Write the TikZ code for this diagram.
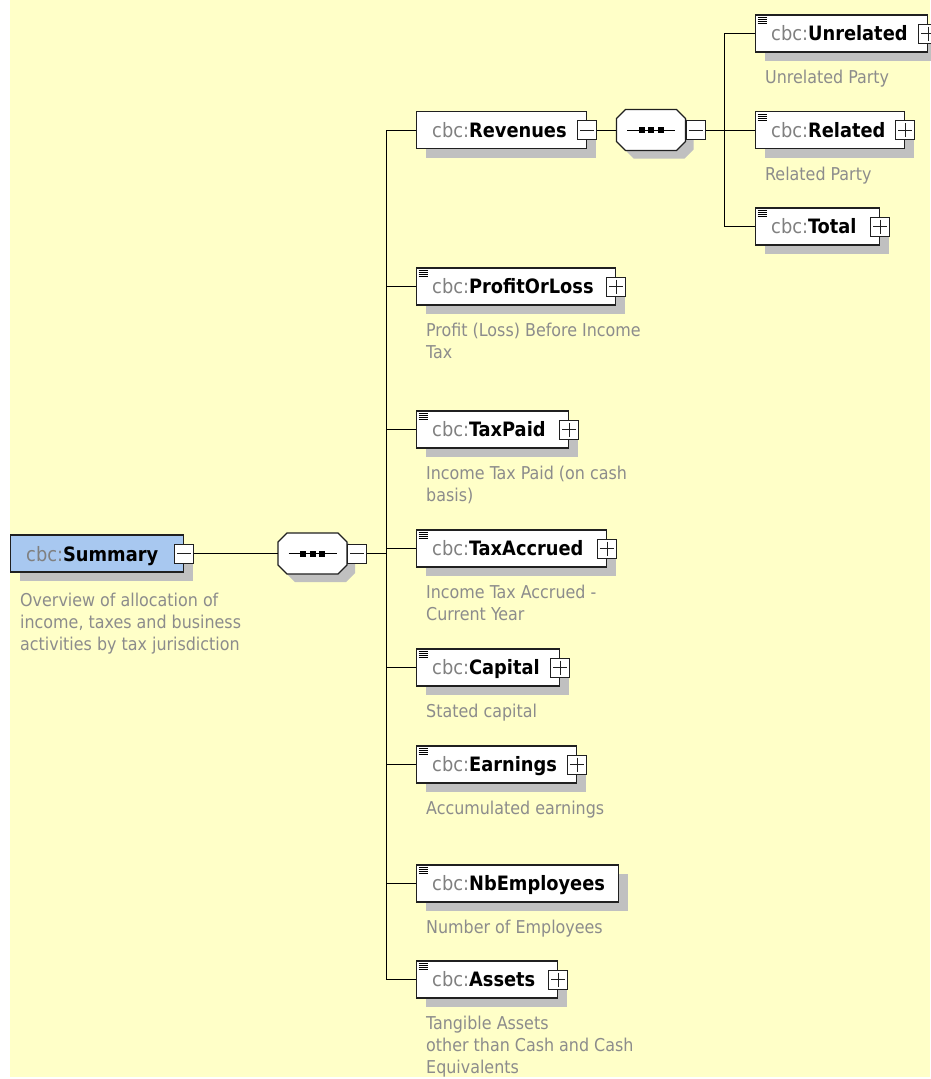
\documentclass[tikz,border=0pt]{standalone}
\usepackage{fontspec}
\setmainfont{DejaVu Sans Condensed}
\usepackage{tikz}
\usetikzlibrary{positioning,shadows}

\definecolor{bgyellow}{HTML}{FFFFC8}
\definecolor{sumblue}{HTML}{A8C8F0}
\definecolor{shgray}{HTML}{C0C0C0}
\definecolor{cbcgray}{HTML}{808080}
\definecolor{descgray}{HTML}{8C8C8C}
\definecolor{boxline}{HTML}{202020}

\newcommand{\cbcname}[1]{\textcolor{cbcgray}{cbc:}\textbf{#1}}

\tikzset{
	seqgrp/.pic={
		\fill[shgray] (-17.5,-12.5) -- (33.5,-12.5) -- (42.5,-3.5) -- (42.5,19.5) -- (33.5,28.5) -- (-17.5,28.5) -- (-26.5,19.5) -- (-26.5,-3.5) -- cycle;
		\draw[octo] (-25.5,-20.5) -- (25.5,-20.5) -- (34.5,-11.5) -- (34.5,11.5) -- (25.5,20.5) -- (-25.5,20.5) -- (-34.5,11.5) -- (-34.5,-11.5) -- cycle;
		\draw[conn] (-24,0) -- (24,0);
		\foreach \dx in {-9.5,0,9.5} \fill ({\dx-3},-3) rectangle ++(6,6);
		\node[inner sep=0pt, minimum width=69pt, minimum height=41pt] (-box) at (0,0) {};
		\node[pmbox, minus, anchor=west] (-pm) at (34.5,0) {};
	}
}

\begin{document}
\begin{tikzpicture}[x=1pt,y=-1pt,
	conn/.style={draw=black, line width=1pt},
	octo/.style={draw=boxline, fill=white, line width=1.2pt},
	elem/.style={draw=boxline, fill=white, line width=1.2pt, minimum height=37pt, inner sep=0pt, anchor=west,
		drop shadow={shadow xshift=9pt, shadow yshift=-9pt, fill=shgray, opacity=1}},
	lbl/.style={inner sep=0pt, anchor=base west, font=\fontsize{19.8}{23}\selectfont},
	desc/.style={inner sep=0pt, anchor=north west, align=left, text=descgray, font=\fontsize{17.7}{22}\selectfont},
	icon/.style={draw=black, line width=0.8pt},
	pmbox/.style={draw=boxline, fill=white, line width=1pt, minimum size=19pt, inner sep=0pt},
	minus/.style={path picture={\draw[line width=0.9pt] ([xshift=2.5pt]path picture bounding box.west) -- ([xshift=-2.5pt]path picture bounding box.east);}},
	plus/.style={path picture={\draw[line width=0.9pt] ([xshift=2.5pt]path picture bounding box.west) -- ([xshift=-2.5pt]path picture bounding box.east);
		\draw[line width=0.9pt] ([yshift=-2.5pt]path picture bounding box.north) -- ([yshift=2.5pt]path picture bounding box.south);}}
	]
	
	\useasboundingbox (0,0) rectangle (930,1079);
	\fill[bgyellow] (10,0) rectangle (930,1077);
	
	% root element
	\node[elem, fill=sumblue, minimum width=173pt] (sum) at (10,553.5) {};
	\node[lbl] (sum-lbl) at ([xshift=16pt,yshift=-7.5pt]sum.west) {\cbcname{Summary}};
	\node[pmbox, minus] (sum-pm) at (sum.east) {};
	\node[desc] (sum-desc) at ([xshift=10pt,yshift=-37.1pt]sum.west) {\strut Overview of allocation of\\income, taxes and business\\activities by tax jurisdiction};
	
	% sequences
	\pic (seqA) at (312.5,553.5) {seqgrp};
	\pic (seqB) at (651,130) {seqgrp};
	
	% child elements
	\foreach \nm/\x/\y/\w/\lbl in {rev/416/130/170/Revenues, prof/416/286.5/199/ProfitOrLoss, paid/416/429.5/152/TaxPaid,
		accr/416/548.5/190/TaxAccrued, cap/416/667.5/143/Capital, earn/416/764.5/160/Earnings,
		nbemp/416/883.5/202/NbEmployees, assets/416/979.5/141/Assets,
		unrel/755/33.5/172/Unrelated, rel/755/130/149/Related, total/755/226.5/124/Total}{
		\node[elem, minimum width=\w pt] (\nm) at (\x,\y) {};
		\node[lbl] (\nm-lbl) at ([xshift=16pt,yshift=-7pt]\nm.west) {\cbcname{\lbl}};
	}
	% simple-type marks
	\foreach \nm in {prof,paid,accr,cap,earn,nbemp,assets,unrel,rel,total}
		\foreach \k in {3,5,7,9}
			\draw[icon] ([xshift=2.5pt,yshift=-\k pt]\nm.north west) -- ++(9.5,0);
	\node[pmbox, minus] (rev-pm) at (rev.east) {};
	\foreach \nm in {prof,paid,accr,cap,earn,assets,unrel,rel,total}
		\node[pmbox, plus] (\nm-pm) at (\nm.east) {};
	
	% annotations
	\foreach \nm/\txt in {prof/{Profit (Loss) Before Income\\Tax}, paid/{Income Tax Paid (on cash\\basis)},
		accr/{Income Tax Accrued -\\Current Year}, cap/{Stated capital}, earn/{Accumulated earnings},
		nbemp/{Number of Employees}, assets/{Tangible Assets\\other than Cash and Cash\\Equivalents},
		unrel/{Unrelated Party}, rel/{Related Party}}
		\node[desc] (\nm-desc) at ([xshift=10pt,yshift=-34.6pt]\nm.west) {\strut\txt};
	
	% connectors
	\coordinate (busA) at (386,553.5);
	\coordinate (busB) at (724,130);
	\draw[conn] (sum-pm) -- (seqA-box);
	\draw[conn] (seqA-pm) -- (busA);
	\foreach \nm in {rev,prof,paid,accr,cap,earn,nbemp,assets}
		\draw[conn] (busA) |- (\nm.west);
	\draw[conn] (rev-pm) -- (seqB-box);
	\draw[conn] (seqB-pm) -- (busB);
	\foreach \nm in {unrel,rel,total}
		\draw[conn] (busB) |- (\nm.west);
	
\end{tikzpicture}
\end{document}
